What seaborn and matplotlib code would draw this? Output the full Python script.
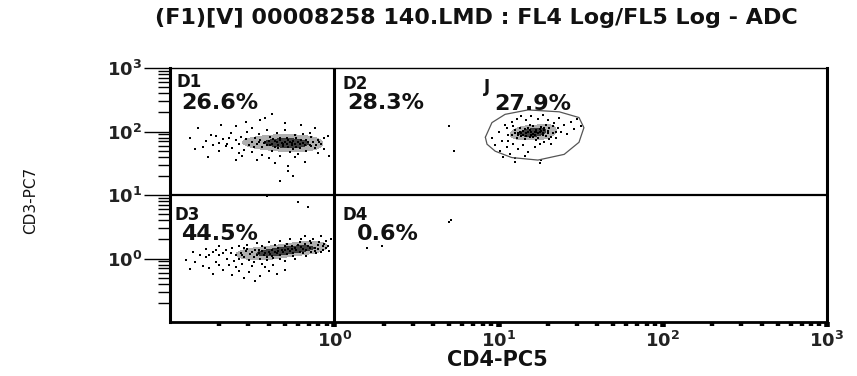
import matplotlib
matplotlib.use("Agg")
import numpy as np
import pandas as pd
import matplotlib.pyplot as plt
import seaborn as sns
from matplotlib.colors import ListedColormap
from matplotlib.ticker import FixedLocator, LogLocator, NullFormatter

# ---------------- data (log10 units of CD4-PC5 / CD3-PC7) ----------------
title = "(F1)[V] 00008258 140.LMD : FL4 Log/FL5 Log - ADC"
x_label = "CD4-PC5"
y_label = "CD3-PC7"
tick_values = [1, 10, 100, 1000]
tick_labels = [r"$\mathbf{10^{0}}$", r"$\mathbf{10^{1}}$", r"$\mathbf{10^{2}}$", r"$\mathbf{10^{3}}$"]
quadrant_names = ["D1", "D2", "J", "D3", "D4"]
quadrant_pcts = ["26.6%", "28.3%", "27.9%", "44.5%", "0.6%"]

d1_points = [
    (-0.50, 1.84), (-0.47, 1.80), (-0.45, 1.87), (-0.43, 1.82), (-0.41, 1.78), (-0.40, 1.85),
    (-0.38, 1.81), (-0.37, 1.88), (-0.36, 1.76), (-0.35, 1.83), (-0.34, 1.79), (-0.33, 1.86),
    (-0.32, 1.82), (-0.31, 1.77), (-0.30, 1.84), (-0.29, 1.80), (-0.28, 1.87), (-0.27, 1.83),
    (-0.26, 1.78), (-0.25, 1.85), (-0.24, 1.81), (-0.23, 1.76), (-0.22, 1.84), (-0.21, 1.80),
    (-0.20, 1.87), (-0.19, 1.82), (-0.18, 1.78), (-0.52, 1.79), (-0.48, 1.90), (-0.44, 1.75),
    (-0.39, 1.91), (-0.34, 1.74), (-0.29, 1.90), (-0.25, 1.73), (-0.16, 1.83), (-0.15, 1.79),
    (-0.42, 1.83), (-0.36, 1.85), (-0.31, 1.81), (-0.26, 1.82),
    (-0.78, 1.85), (-0.74, 1.78), (-0.72, 1.93), (-0.70, 1.70), (-0.68, 1.88), (-0.65, 1.81),
    (-0.63, 1.97), (-0.62, 1.74), (-0.60, 1.86), (-0.58, 1.66), (-0.57, 1.92), (-0.55, 1.71),
    (-0.53, 2.00), (-0.50, 1.68), (-0.46, 1.96), (-0.44, 1.63), (-0.41, 2.03), (-0.38, 1.69),
    (-0.35, 1.97), (-0.33, 1.62), (-0.30, 2.02), (-0.27, 1.67), (-0.24, 1.95), (-0.22, 1.64),
    (-0.19, 1.96), (-0.17, 1.70), (-0.14, 1.91), (-0.12, 1.74), (-0.10, 1.87), (-0.08, 1.80),
    (-0.06, 1.89), (-0.11, 1.78), (-0.13, 1.84), (-0.06, 1.72), (-0.66, 1.77),
    (-0.88, 1.90), (-0.85, 1.72), (-0.83, 2.06), (-0.77, 1.60), (-0.69, 2.10), (-0.60, 1.55),
    (-0.54, 2.15), (-0.47, 1.55), (-0.42, 2.22), (-0.38, 2.27), (-0.36, 1.50), (-0.30, 2.13),
    (-0.28, 1.45), (-0.20, 2.10), (-0.18, 1.52), (-0.12, 2.05), (-0.04, 1.93), (-0.03, 1.62),
    (-0.25, 1.30), (-0.33, 1.22), (-0.28, 1.38), (-0.45, 2.18), (-0.60, 2.08), (-0.41, 0.98),
    (-0.58, 1.80), (-0.54, 1.88), (-0.49, 1.76), (-0.46, 1.83), (-0.39, 1.79), (-0.33, 1.90),
    (-0.28, 1.76), (-0.23, 1.89), (-0.21, 1.74), (-0.17, 1.86), (-0.14, 1.77), (-0.09, 1.83),
    (-0.64, 1.90), (-0.70, 1.82), (-0.75, 1.94), (-0.80, 1.76), (-0.56, 1.61), (-0.40, 1.58),
    (-0.24, 1.60), (-0.15, 1.98), (-0.10, 1.66), (-0.50, 2.05),
]

d3_points = [
    (-0.60, 0.05), (-0.58, 0.00), (-0.57, 0.09), (-0.55, 0.03), (-0.54, 0.12), (-0.52, -0.02),
    (-0.51, 0.07), (-0.50, 0.10), (-0.49, 0.02), (-0.48, 0.14), (-0.47, 0.05), (-0.46, 0.09),
    (-0.45, 0.00), (-0.44, 0.12), (-0.43, 0.06), (-0.42, 0.16), (-0.41, 0.03), (-0.40, 0.10),
    (-0.39, 0.07), (-0.38, 0.14), (-0.37, 0.01), (-0.36, 0.11), (-0.35, 0.08), (-0.34, 0.17),
    (-0.33, 0.05), (-0.32, 0.13), (-0.31, 0.10), (-0.30, 0.19), (-0.29, 0.07), (-0.28, 0.15),
    (-0.27, 0.12), (-0.26, 0.20), (-0.25, 0.09), (-0.24, 0.16), (-0.23, 0.13), (-0.22, 0.22),
    (-0.21, 0.11), (-0.20, 0.18), (-0.19, 0.15), (-0.18, 0.23), (-0.17, 0.13), (-0.16, 0.19),
    (-0.15, 0.16), (-0.14, 0.24), (-0.42, 0.09), (-0.38, 0.04), (-0.34, 0.12), (-0.30, 0.13),
    (-0.26, 0.15), (-0.46, 0.13),
    (-0.85, -0.05), (-0.82, 0.06), (-0.80, -0.12), (-0.78, 0.02), (-0.76, -0.15), (-0.74, 0.10),
    (-0.72, -0.06), (-0.70, 0.05), (-0.68, -0.18), (-0.66, 0.13), (-0.64, -0.10), (-0.62, 0.17),
    (-0.60, -0.14), (-0.58, 0.20), (-0.56, -0.09), (-0.53, 0.22), (-0.50, -0.12), (-0.47, 0.25),
    (-0.44, -0.08), (-0.40, 0.26), (-0.37, -0.10), (-0.33, 0.28), (-0.30, -0.04), (-0.27, 0.30),
    (-0.24, 0.00), (-0.20, 0.31), (-0.17, 0.04), (-0.13, 0.30), (-0.11, 0.08), (-0.09, 0.26),
    (-0.07, 0.14), (-0.05, 0.27), (-0.04, 0.20), (-0.10, 0.21), (-0.12, 0.17), (-0.08, 0.11),
    (-0.06, 0.23), (-0.14, 0.10), (-0.65, 0.00), (-0.55, 0.16),
    (-0.90, -0.02), (-0.88, -0.17), (-0.86, 0.10), (-0.74, -0.24), (-0.70, 0.20), (-0.62, -0.26),
    (-0.55, -0.30), (-0.52, -0.22), (-0.48, -0.36), (-0.45, -0.28), (-0.40, -0.20), (-0.35, -0.24),
    (-0.30, -0.18), (-0.02, 0.30), (-0.03, 0.12), (-0.18, 0.36), (-0.08, 0.35), (-0.22, 0.89),
    (-0.16, 0.81), (-0.78, 0.15),
    (-0.63, 0.08), (-0.61, -0.04), (-0.56, 0.06), (-0.53, 0.15), (-0.49, -0.05), (-0.44, 0.19),
    (-0.41, -0.02), (-0.36, 0.21), (-0.33, 0.00), (-0.29, 0.23), (-0.25, 0.04), (-0.21, 0.26),
    (-0.19, 0.08), (-0.15, 0.28), (-0.12, 0.12), (-0.10, 0.15), (-0.07, 0.19), (-0.05, 0.16),
    (-0.68, 0.09), (-0.72, 0.14), (-0.76, 0.05), (-0.70, -0.11), (-0.58, -0.19), (-0.42, -0.14),
]

j_points = [
    (1.08, 1.95), (1.10, 2.02), (1.11, 1.90), (1.12, 1.98), (1.13, 2.06), (1.14, 1.93),
    (1.15, 2.01), (1.16, 1.88), (1.17, 1.97), (1.18, 2.05), (1.19, 1.92), (1.20, 2.00),
    (1.21, 2.08), (1.22, 1.95), (1.23, 2.03), (1.24, 1.90), (1.25, 1.99), (1.26, 2.07),
    (1.27, 1.94), (1.28, 2.02), (1.29, 2.10), (1.30, 1.97), (1.31, 2.05), (1.32, 1.92),
    (1.14, 1.98), (1.18, 1.99), (1.22, 2.00), (1.26, 2.01), (1.16, 2.04), (1.20, 1.94),
    (1.24, 1.97), (1.28, 2.06), (1.12, 1.94), (1.19, 2.10), (1.23, 1.86), (1.10, 1.97),
    (1.21, 1.96), (1.17, 1.93), (1.25, 2.04), (1.30, 2.01),
    (0.96, 1.90), (0.98, 1.78), (1.00, 2.00), (1.01, 1.70), (1.02, 1.85), (1.04, 2.10),
    (1.05, 1.75), (1.06, 1.95), (1.07, 1.65), (1.08, 2.15), (1.09, 1.80), (1.11, 2.20),
    (1.12, 1.72), (1.14, 2.25), (1.15, 1.78), (1.17, 2.18), (1.18, 1.68), (1.20, 2.24),
    (1.22, 1.75), (1.24, 2.20), (1.25, 1.80), (1.27, 2.26), (1.28, 1.84), (1.30, 2.18),
    (1.32, 1.80), (1.34, 2.14), (1.35, 1.90), (1.37, 2.22), (1.38, 2.00), (1.40, 2.10),
    (1.42, 1.96), (1.44, 2.15), (1.46, 2.04), (1.48, 2.20), (1.50, 2.08), (1.36, 2.06),
    (1.33, 1.98), (1.03, 1.60), (1.10, 1.58), (1.16, 1.62), (1.26, 1.55), (1.05, 2.05),
    (1.10, 1.52), (1.25, 1.50),
    (1.13, 2.00), (1.15, 1.95), (1.19, 2.03), (1.21, 1.91), (1.23, 1.99), (1.27, 1.98),
    (1.29, 1.93), (1.33, 2.08), (1.09, 2.08), (1.06, 1.85), (1.35, 2.00), (1.31, 1.88),
]

stray_points = [(0.70, 2.08), (0.73, 1.69), (0.70, 0.58), (0.71, 0.61), (0.20, 0.16), (0.29, 0.20)]

gate_j = [
    (0.92, 1.91), (0.96, 2.14), (1.04, 2.27), (1.18, 2.34), (1.37, 2.31), (1.49, 2.22),
    (1.52, 2.06), (1.49, 1.83), (1.40, 1.64), (1.24, 1.55), (1.08, 1.59), (0.98, 1.69),
    (0.93, 1.80), (0.92, 1.91),
]

quadrant_x_split = 1.0    # CD4 boundary (10^0)
quadrant_y_split = 10.0   # CD3 boundary (10^1)

# ---------------- build frame ----------------
frames = []
for name, pts in [("D1", d1_points), ("D3", d3_points), ("J", j_points), ("other", stray_points)]:
    arr = np.array(pts)
    frames.append(pd.DataFrame({"CD4": 10 ** arr[:, 0], "CD3": 10 ** arr[:, 1], "pop": name}))
df = pd.concat(frames, ignore_index=True)
gate = np.array(gate_j)

# ---------------- style ----------------
sns.set_style("white")
plt.rcParams["font.family"] = ["DejaVu Sans"]
plt.rcParams["mathtext.fontset"] = "custom"
plt.rcParams["mathtext.rm"] = "DejaVu Sans"
plt.rcParams["mathtext.bf"] = "DejaVu Sans:bold"

fig = plt.figure(figsize=(8.57, 3.76), dpi=100)
ax = fig.add_axes([170 / 857, 1 - 322 / 376, 657 / 857, 254 / 376])
ax.set_xscale("log")
ax.set_yscale("log")

core_cmap = ListedColormap(["#a8a8a8", "#2a2a2a"])
for name in ["D1", "D3", "J"]:
    sub = df[df["pop"] == name]
    sns.kdeplot(x=sub["CD4"].to_numpy(), y=sub["CD3"].to_numpy(), fill=True,
                levels=[0.6, 0.85, 1.0], cmap=core_cmap, bw_adjust=0.8, alpha=0.9, ax=ax)

sns.scatterplot(data=df, x="CD4", y="CD3", color="black", marker="s", s=2.6,
                linewidth=0, legend=False, ax=ax)
ax.plot(10 ** gate[:, 0], 10 ** gate[:, 1], color="#555555", lw=0.9)

ax.set_xlim(0.1, 1000)
ax.set_ylim(0.1, 1000)

ax.axvline(quadrant_x_split, color="black", lw=2.2)
ax.axhline(quadrant_y_split, color="black", lw=1.6)

for side, lw in [("left", 2.2), ("bottom", 2.0), ("right", 2.2), ("top", 1.0)]:
    ax.spines[side].set_visible(True)
    ax.spines[side].set_linewidth(lw)
    ax.spines[side].set_color("black")

ax.xaxis.set_major_locator(FixedLocator(tick_values))
ax.yaxis.set_major_locator(FixedLocator(tick_values))
ax.xaxis.set_minor_locator(LogLocator(base=10, subs=np.arange(2, 10), numticks=20))
ax.yaxis.set_minor_locator(LogLocator(base=10, subs=np.arange(2, 10), numticks=20))
ax.xaxis.set_minor_formatter(NullFormatter())
ax.yaxis.set_minor_formatter(NullFormatter())
ax.set_xticklabels(tick_labels)
ax.set_yticklabels(tick_labels)

ax.tick_params(which="both", bottom=True, left=True, top=False, right=False)
ax.tick_params(axis="x", which="major", direction="out", length=3.5, width=4.0,
               color="black", pad=3, labelsize=13, labelcolor="#222222")
ax.tick_params(axis="x", which="minor", direction="out", length=3.0, width=3.2, color="black")
ax.tick_params(axis="y", which="major", direction="out", length=19, width=1.0,
               color="black", pad=1, labelsize=13, labelcolor="#222222")
ax.tick_params(axis="y", which="minor", direction="out", length=9, width=1.0, color="black")
ax.set_xlabel("")
ax.set_ylabel("")

def ax_frac(px, py):
    return (px - 170) / 657, (322 - py) / 254

label_pos = [(176, 73), (342, 75), (484, 78), (174, 206), (342, 206)]
pct_pos = [(181, 93), (347, 93), (494, 94), (181, 224), (357, 224)]
for name, pct, lp, pp in zip(quadrant_names, quadrant_pcts, label_pos, pct_pos):
    x, y = ax_frac(*lp)
    ax.text(x, y, name, transform=ax.transAxes, ha="left", va="top",
            fontsize=12, fontweight="bold", color="#111111")
    x, y = ax_frac(*pp)
    ax.text(x, y, pct, transform=ax.transAxes, ha="left", va="top",
            fontsize=16, fontweight="bold", color="#111111")

fig.text(476 / 857, 1 - 18 / 376, title, ha="center", va="center",
         fontsize=16, fontweight="bold", color="#111111")
fig.text(497 / 857, 1 - 360 / 376, x_label, ha="center", va="center",
         fontsize=15, fontweight="bold", color="#111111")
fig.text(31 / 857, 1 - 200 / 376, y_label, ha="center", va="center",
         rotation=90, fontsize=11, color="#111111")

fig.savefig("out.png", dpi=100)
